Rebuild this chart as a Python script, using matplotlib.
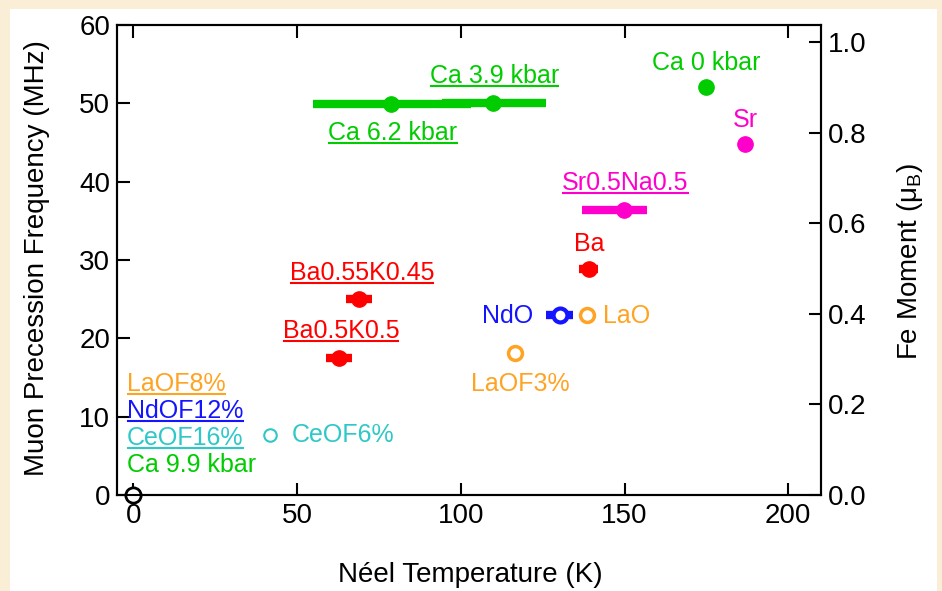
import matplotlib
matplotlib.use('Agg')
import matplotlib.pyplot as plt
from matplotlib.lines import Line2D
from matplotlib.patches import Rectangle

plt.rcParams['font.family'] = ['Liberation Sans', 'DejaVu Sans']
plt.rcParams['mathtext.fontset'] = 'custom'
plt.rcParams['mathtext.rm'] = 'Liberation Sans'
plt.rcParams['mathtext.it'] = 'Liberation Sans:italic'

GREEN = '#00CC00'
MAGENTA = '#FF00CC'
RED = '#FF0000'
BLUE = '#1414FF'
ORANGE = '#FFA322'
CYAN = '#2EC8C8'

# ordered samples, filled symbols (T_N in K, precession frequency in MHz)
solid_names = ['Ca 0 kbar', 'Sr', 'Sr0.5Na0.5', 'Ba', 'Ba0.55K0.45', 'Ba0.5K0.5',
               'Ca 6.2 kbar', 'Ca 3.9 kbar']
solid_tn = [175.0, 186.9, 149.7, 139.0, 68.9, 62.8, 78.7, 109.8]
solid_tn_lo = [0, 0, 12.8, 3.0, 4.1, 4.1, 23.8, 15.5]
solid_tn_hi = [0, 0, 7.3, 3.0, 4.1, 4.1, 24.4, 16.2]
solid_freq = [52.1, 44.8, 36.4, 28.9, 25.0, 17.5, 49.9, 50.1]
solid_colors = [GREEN, MAGENTA, MAGENTA, RED, RED, RED, GREEN, GREEN]

# open symbols
open_names = ['NdO', 'LaO', 'LaOF3%', 'CeOF6%', 'Ca 9.9 kbar']
open_tn = [130.2, 138.4, 116.5, 41.8, 0.0]
open_tn_err = [4.1, 0, 0, 0, 0]
open_freq = [23.0, 23.0, 18.1, 7.7, 0.0]
open_colors = [BLUE, ORANGE, ORANGE, CYAN, 'black']
open_ms = [10, 10, 10, 9, 11]
open_mew = [3, 2.5, 2.5, 1.5, 2]

# sample labels: text, x, y (baseline), alignment, colour, underlined
labels = [
    ('Ca 0 kbar', 175.0, 54.2, 'center', GREEN, False),
    ('Sr', 186.9, 47.0, 'center', MAGENTA, False),
    ('Sr0.5Na0.5', 150.3, 38.95, 'center', MAGENTA, True),
    ('Ba', 139.3, 31.2, 'center', RED, False),
    ('Ba0.55K0.45', 69.8, 27.5, 'center', RED, True),
    ('Ba0.5K0.5', 63.4, 20.1, 'center', RED, True),
    ('NdO', 114.3, 22.0, 'center', BLUE, False),
    ('LaO', 143.3, 22.0, 'left', ORANGE, False),
    ('LaOF3%', 118.3, 13.3, 'center', ORANGE, False),
    ('Ca 3.9 kbar', 110.4, 52.6, 'center', GREEN, True),
    ('Ca 6.2 kbar', 79.3, 45.3, 'center', GREEN, True),
    ('LaOF8%', -1.9, 13.3, 'left', ORANGE, True),
    ('NdOF12%', -1.9, 9.8, 'left', BLUE, True),
    ('CeOF16%', -1.9, 6.4, 'left', CYAN, True),
    ('Ca 9.9 kbar', -1.9, 2.9, 'left', GREEN, False),
    ('CeOF6%', 48.5, 6.8, 'left', CYAN, False),
]

fig = plt.figure(figsize=(9.42, 5.91), dpi=100, facecolor='#FAEFD6')
fig.patches.append(Rectangle((10 / 942, 0), 927 / 942, 1 - 9 / 591,
                             transform=fig.transFigure, facecolor='white',
                             edgecolor='none', zorder=-5))
ax = fig.add_axes([117 / 942, 1 - 495 / 591, 704 / 942, 470 / 591])
ax.set_facecolor('white')

for x, lo, hi, y, c in zip(solid_tn, solid_tn_lo, solid_tn_hi, solid_freq, solid_colors):
    eb = ax.errorbar(x, y, xerr=[[lo], [hi]], fmt='o', color=c, ms=11, mec=c,
                     elinewidth=6, capsize=0, zorder=3)
    eb[2][0].set_capstyle('butt')

for x, e, y, c, ms, mew in zip(open_tn, open_tn_err, open_freq, open_colors, open_ms, open_mew):
    eb = ax.errorbar(x, y, xerr=e, fmt='o', color=c, mfc='white', mec=c, ms=ms,
                     mew=mew, elinewidth=6, capsize=0, zorder=4)
    eb[2][0].set_capstyle('butt')
    for art in eb.get_children():
        art.set_clip_on(False)

texts = []
for s, x, y, ha, c, ul in labels:
    t = ax.text(x, y, s, color=c, fontsize=18, ha=ha, va='baseline', zorder=5)
    texts.append((t, ul))

ax.set_xlim(-5, 210)
ax.set_ylim(0, 60)
ax.set_xticks([0, 50, 100, 150, 200])
ax.set_yticks([0, 10, 20, 30, 40, 50, 60])
ax.tick_params(axis='x', direction='in', top=True, length=9, width=1.5, labelsize=20, pad=6)
ax.tick_params(axis='y', direction='in', right=False, length=9, width=1.5, labelsize=20, pad=5)
for sp in ax.spines.values():
    sp.set_linewidth(1.5)

ax2 = ax.twinx()
ax2.set_ylim(0, 470 / 453)
ax2.set_yticks([0.0, 0.2, 0.4, 0.6, 0.8, 1.0])
ax2.set_yticklabels(['0.0', '0.2', '0.4', '0.6', '0.8', '1.0'])
ax2.tick_params(axis='y', direction='in', length=9, width=1.5, labelsize=20, pad=5)
for sp in ax2.spines.values():
    sp.set_linewidth(1.5)

fig.text(470 / 942, 1 - 582 / 591, 'Néel Temperature (K)', fontsize=20,
         ha='center', va='baseline')
fig.text(37 / 942, 1 - 258 / 591, 'Muon Precession Frequency (MHz)', fontsize=20,
         rotation=90, ha='center', va='center')
fig.text(910 / 942, 1 - 262 / 591, r'Fe Moment (μ$_\mathrm{B}$)', fontsize=20,
         rotation=90, ha='center', va='center')

# underline the labels of the doped / pressurised series
fig.canvas.draw()
renderer = fig.canvas.get_renderer()
inv = fig.transFigure.inverted()
for t, ul in texts:
    if not ul:
        continue
    bb = t.get_window_extent(renderer)
    base = ax.transData.transform(t.get_position())[1] - 3
    (x0, y0), (x1, y1) = inv.transform([(bb.x0 + 1, base), (bb.x1 - 1, base)])
    fig.add_artist(Line2D([x0, x1], [y0, y1], color=t.get_color(), lw=1.5))

fig.savefig('out.png', dpi=100, facecolor=fig.get_facecolor())
